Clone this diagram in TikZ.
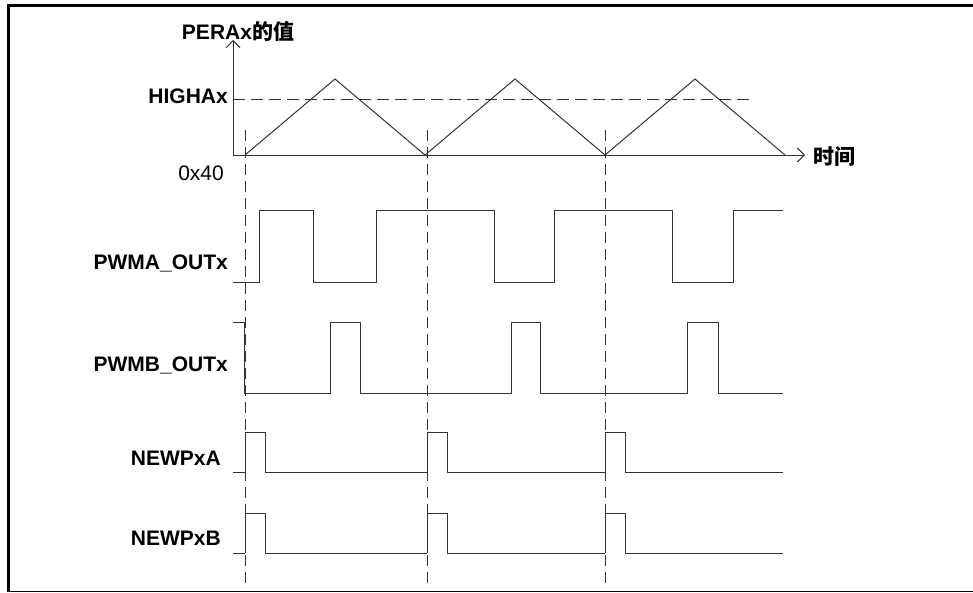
\documentclass[tikz,border=0pt]{standalone}
\usepackage{fontspec}
\setmainfont{Liberation Sans}
\newfontfamily\cjk{Noto Sans CJK SC}
\usetikzlibrary{arrows.meta}

\begin{document}
\begin{tikzpicture}[
  x=1pt, y=-1pt,
  every node/.append style={inner sep=0pt, font=\fontsize{21}{25}\selectfont},
  lbl/.style={font=\fontsize{21}{25}\selectfont\bfseries},
  wave/.style={line width=1pt, black!80, line join=miter},
  guide/.style={line width=1pt, black!80, dash pattern=on 11pt off 6pt},
  axis/.style={line width=1pt, black!80, -{Straight Barb[length=7pt,width=14pt]}},
]

% ---------- common data ----------
\def\vx{245}   % first valley of the counter
\def\px{180}   % one counter period
\def\ylo{155}  % counter at 0x40
\def\yhi{79}   % counter at its top

% ---------- frame ----------
\useasboundingbox (0,0) rectangle (973,592);
\draw[line width=3pt] (8.5,591) -- (8.5,5.5) -- (973,5.5);
\draw[line width=1pt] (7,591) -- (973,591);

% ---------- counter ----------
\draw[axis] (233,\ylo) -- (233,40);
\draw[axis] (233,\ylo) -- (805,\ylo);
\node[lbl, anchor=base] (yname) at (238,39.5) {PERAx{\cjk 的值}};
\node[lbl, anchor=west] (tname) at (813,157) {\cjk 时间};
\node[lbl, anchor=base east] (high) at (228,103.5) {HIGHAx};
\node[anchor=base east] (low) at (224,180.5) {0x40};

\draw[line width=1pt, black!80, dash pattern=on 12pt off 6pt] (233,99) -- (750,99);

\foreach \i in {0,1,2} {
  \draw[wave] ({\vx+\i*\px},\ylo) -- ({\vx+\i*\px+\px/2},\yhi) -- ({\vx+(\i+1)*\px},\ylo);
}

% ---------- guides at each valley ----------
\foreach \x in {245,427,605} {
  \draw[guide] (\x,130) -- (\x,583);
}

% ---------- PWM outputs ----------
\node[lbl, anchor=base east] (pwma) at (228,269) {PWMA\_OUTx};
\draw[wave] (233,282) -- (259,282) -- (259,210) -- (313,210) -- (313,282)
  -- (376,282) -- (376,210) -- (494,210) -- (494,282) -- (554,282)
  -- (554,210) -- (672,210) -- (672,282) -- (733,282) -- (733,210) -- (783,210);

\node[lbl, anchor=base east] (pwmb) at (228,371.5) {PWMB\_OUTx};
\draw[wave] (233,322) -- (244,322) -- (244,393) -- (330,393) -- (330,322)
  -- (360,322) -- (360,393) -- (511,393) -- (511,322) -- (540,322)
  -- (540,393) -- (687,393) -- (687,322) -- (718,322) -- (718,393) -- (783,393);

% ---------- NEWPx pulses ----------
\node[lbl, anchor=base east] (newa) at (221,465.5) {NEWPxA};
\node[lbl, anchor=base east] (newb) at (221,545.5) {NEWPxB};
\foreach \yl/\yh in {472/432, 553/513} {
  \draw[wave] (233,\yl) -- (245,\yl);
  \foreach \x/\e in {245/427, 427/605, 605/783} {
    \draw[wave] (\x,\yl) -- (\x,\yh) -- ({\x+20},\yh) -- ({\x+20},\yl) -- (\e,\yl);
  }
}

\end{tikzpicture}
\end{document}
